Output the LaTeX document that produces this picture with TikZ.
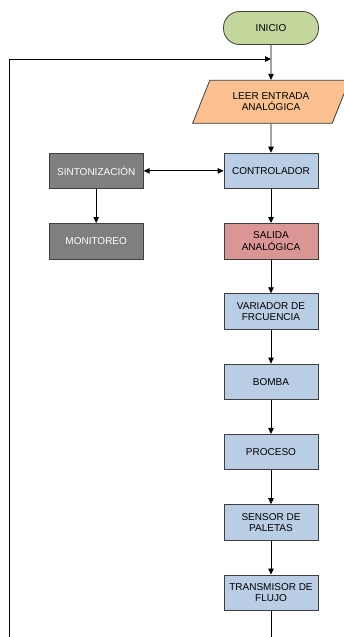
\documentclass[tikz,border=0pt]{standalone}
\usepackage{fontspec}
\setmainfont{Liberation Sans}
\usetikzlibrary{arrows,arrows.meta,positioning,shapes.geometric}
\definecolor{verdeinicio}{HTML}{C3D69B}
\definecolor{naranja}{HTML}{FAC090}
\definecolor{azulbloque}{HTML}{B9CDE5}
\definecolor{rojosalida}{HTML}{D99694}
\definecolor{grisbloque}{HTML}{7F7F7F}
\definecolor{borde}{HTML}{3F3F3F}

\begin{document}
\begin{tikzpicture}[->, >={Triangle[length=6pt,width=5.5pt]}, thick, x=1pt, y=1pt, node distance=34pt and 80pt]
        \tikzstyle{every node}=[font=\fontsize{10}{11.5}\selectfont]
        \tikzstyle{bloque}=[rectangle,draw=borde,thick,fill=azulbloque,text=black,minimum width=94pt,minimum height=35.5pt,align=center,inner sep=1pt]
        \tikzstyle{terminal}=[bloque,fill=verdeinicio,rounded corners=16pt,minimum width=95pt,minimum height=33pt]
        \tikzstyle{entrada}=[trapezium,trapezium left angle=65,trapezium right angle=115,trapezium stretches=true,draw=borde,thick,fill=naranja,minimum width=157pt,minimum height=43pt,align=center]
        \tikzstyle{gris}=[bloque,fill=grisbloque,text=white]

        \useasboundingbox (0,0) rectangle (344,-637);

        \node[terminal]  (inicio)  at (271,-28)          {INICIO};
        \node[entrada]   (leer)    [below=35pt of inicio] {LEER ENTRADA\\ANALÓGICA};
        \node[bloque]    (control) [below=29pt of leer]   {CONTROLADOR};
        \node[gris]      (sinton)  [left=of control]      {SINTONIZACIÓN};
        \node[gris]      (monit)   [below=of sinton]      {MONITOREO};
        \node[bloque,fill=rojosalida] (salida) [below=of control] {SALIDA\\ANALÓGICA};
        \node[bloque]    (variador)[below=of salida]      {VARIADOR DE\\FRCUENCIA};
        \node[bloque]    (bomba)   [below=of variador]    {BOMBA};
        \node[bloque]    (proceso) [below=of bomba]       {PROCESO};
        \node[bloque]    (sensor)  [below=of proceso]     {SENSOR DE\\PALETAS};
        \node[bloque]    (transm)  [below=of sensor]      {TRANSMISOR DE\\FLUJO};

        \coordinate (union) at (inicio.south |- 0,-59);
        \coordinate (abajo) at (transm.south |- 0,-645);
        \coordinate (izq)   at (9,-645);
        \coordinate (arriba) at (9,-59);

        \path
            (inicio)   edge  (leer)
            (leer)     edge  (control)
            (control)  edge[<->] (sinton)
            (sinton)   edge  (monit)
            (control)  edge  (salida)
            (salida)   edge  (variador)
            (variador) edge  (bomba)
            (bomba)    edge  (proceso)
            (proceso)  edge  (sensor)
            (sensor)   edge  (transm)
        ;
        % lazo de realimentacion
        \draw (transm) -- (abajo) -- (izq) -- (arriba) -- (union);
    \end{tikzpicture}
\end{document}
